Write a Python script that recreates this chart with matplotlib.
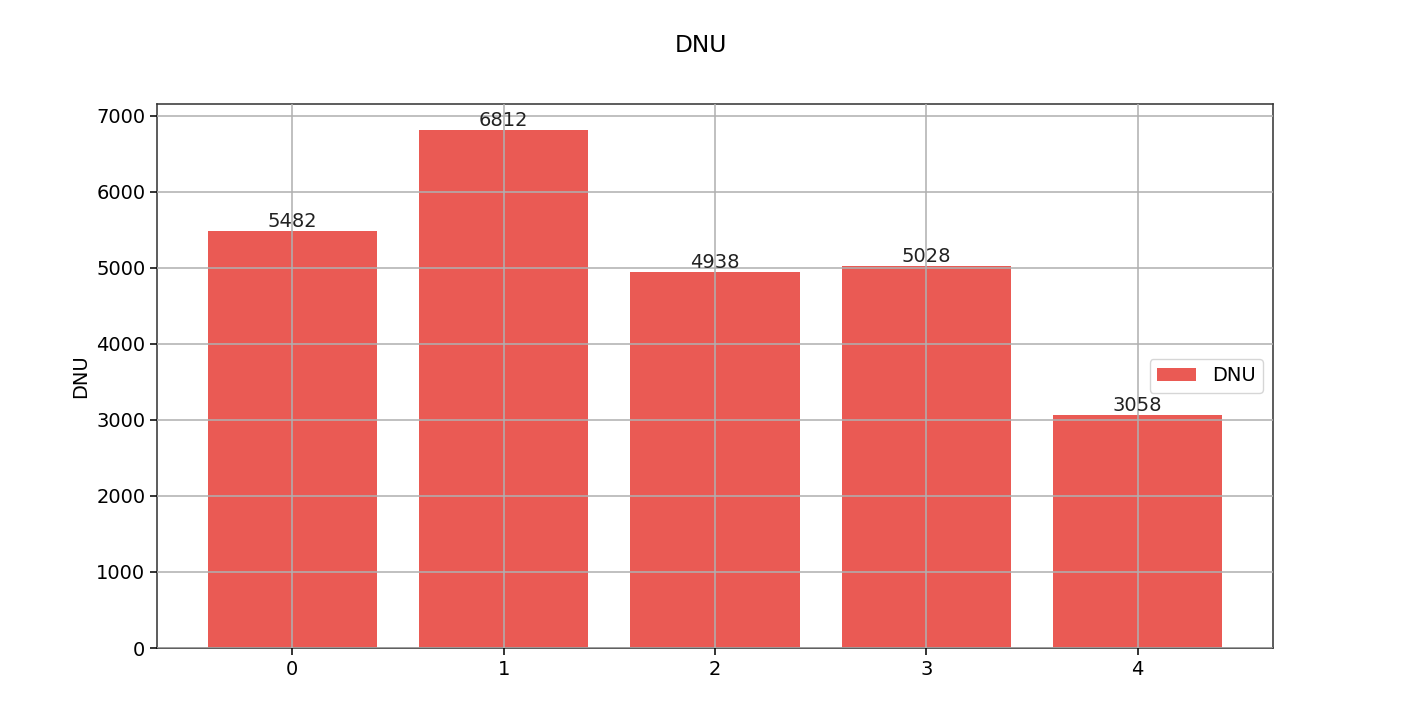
import matplotlib
matplotlib.use("Agg")
import matplotlib.pyplot as plt

categories = [0, 1, 2, 3, 4]
dnu_values = [5482, 6812, 4938, 5028, 3058]
series_name = "DNU"

s = 1.4
fig = plt.figure(figsize=(14.02, 7.10), dpi=100)
ax = fig.add_axes([157/1402, 1-648/710, (1273-157)/1402, (648-104)/710])
bars = ax.bar(categories, dnu_values, width=0.8, color="#EA5A54", label=series_name, zorder=1)
ax.grid(True, color="#b0b0b0", linewidth=0.8*s, zorder=2)
ax.set_axisbelow(False)
for x, v in zip(categories, dnu_values):
    ax.text(x, v, str(v), ha="center", va="bottom", fontsize=10*s, color="#222222", zorder=3)
ax.set_xticks(categories)
ax.set_ylabel("DNU", fontsize=10*s)
ax.tick_params(labelsize=10*s, length=3.5*s, width=0.8*s)
for sp in ax.spines.values():
    sp.set_linewidth(0.8*s)
    sp.set_color("#333333")
ax.legend(loc="center right", fontsize=10*s)
fig.suptitle("DNU", fontsize=12*s, y=1-45/710, va="center")
fig.savefig("out.png", dpi=100)
